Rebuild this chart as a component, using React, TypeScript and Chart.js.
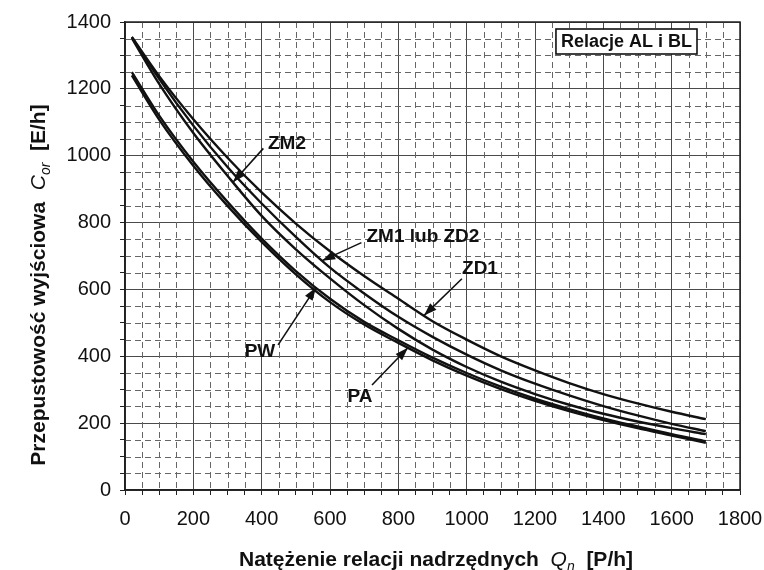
import React, { useEffect, useRef } from 'react';
import { Chart, registerables } from 'chart.js';

Chart.register(...registerables);

// ---- data ----
const qn = [20, 100, 200, 300, 400, 500, 600, 700, 800, 900, 1000, 1100, 1200, 1300, 1400, 1500, 1600, 1700];
const zd1 = [1355, 1238, 1109, 994, 890, 797, 714, 640, 572, 505, 450, 400, 358, 320, 287, 259, 234, 212];
const zm1 = [1355, 1230, 1090, 966, 857, 757, 665, 588, 518, 458, 405, 358, 318, 283, 251, 223, 198, 176];
const zm2 = [1352, 1215, 1068, 940, 820, 720, 633, 553, 482, 420, 368, 324, 287, 255, 228, 205, 185, 167];
const pw = [1250, 1120, 982, 862, 752, 655, 572, 503, 448, 396, 350, 309, 273, 242, 214, 190, 167, 146];
const pa = [1240, 1108, 970, 850, 742, 645, 562, 495, 440, 388, 342, 302, 267, 236, 209, 185, 163, 141];

const seriesNames = ['ZD1', 'ZM1 lub ZD2', 'ZM2', 'PW', 'PA'];
const seriesValues = [zd1, zm1, zm2, pw, pa];

const xMin = 0;
const xMax = 1800;
const yMin = 0;
const yMax = 1400;
const majorStep = 200;
const minorStep = 50;

const boxText = 'Relacje AL i BL';
const yTitle = ['Przepustowość wyjściowa  ', 'C', 'or', '  [E/h]'];
const xTitle = ['Natężenie relacji nadrzędnych  ', 'Q', 'n', '  [P/h]'];

// annotation: label position and arrow tail in data units; arrow tip x in data units, tip y taken from the series
const annotations = [
  { label: 'ZM2', series: 2, at: [474, 1035], from: [405, 1022], tipX: 316 },
  { label: 'ZM1 lub ZD2', series: 1, at: [872, 757], from: [692, 740], tipX: 577 },
  { label: 'ZD1', series: 0, at: [1039, 661], from: [986, 632], tipX: 875 },
  { label: 'PW', series: 3, at: [395, 413], from: [448, 434], tipX: 559 },
  { label: 'PA', series: 4, at: [688, 278], from: [723, 314], tipX: 828 },
];

const FONT = '"Liberation Sans", Arial, sans-serif';

function interp(xs: number[], ys: number[], x: number) {
  for (let i = 0; i < xs.length - 1; i++) {
    if (x >= xs[i] && x <= xs[i + 1]) {
      const t = (x - xs[i]) / (xs[i + 1] - xs[i]);
      return ys[i] + t * (ys[i + 1] - ys[i]);
    }
  }
  return ys[ys.length - 1];
}

function drawRuns(ctx: CanvasRenderingContext2D, runs: { text: string; font: string; dy: number }[], cx: number, cy: number) {
  let total = 0;
  for (const r of runs) {
    ctx.font = r.font;
    total += ctx.measureText(r.text).width;
  }
  let x = cx - total / 2;
  for (const r of runs) {
    ctx.font = r.font;
    ctx.fillText(r.text, x, cy + r.dy);
    x += ctx.measureText(r.text).width;
  }
}

function titleRuns(parts: string[]) {
  return [
    { text: parts[0], font: `bold 21px ${FONT}`, dy: 0 },
    { text: parts[1], font: `italic 21px ${FONT}`, dy: 0 },
    { text: parts[2], font: `italic 14px ${FONT}`, dy: 5 },
    { text: parts[3], font: `bold 21px ${FONT}`, dy: 0 },
  ];
}

const overlay = {
  id: 'overlay',
  beforeDatasetsDraw(chart: any) {
    const { ctx, chartArea: a, scales } = chart;
    const x = scales.x;
    const y = scales.y;
    ctx.save();
    ctx.strokeStyle = '#666';
    ctx.lineWidth = 1;
    ctx.setLineDash([6, 4]);
    for (let v = xMin + minorStep; v < xMax; v += minorStep) {
      if (v % majorStep === 0) continue;
      const px = Math.round(x.getPixelForValue(v)) + 0.5;
      ctx.beginPath();
      ctx.moveTo(px, a.top);
      ctx.lineTo(px, a.bottom);
      ctx.stroke();
    }
    for (let v = yMin + minorStep; v < yMax; v += minorStep) {
      if (v % majorStep === 0) continue;
      const py = Math.round(y.getPixelForValue(v)) + 0.5;
      ctx.beginPath();
      ctx.moveTo(a.left, py);
      ctx.lineTo(a.right, py);
      ctx.stroke();
    }
    ctx.restore();
  },
  afterDraw(chart: any) {
    const { ctx, chartArea: a, scales } = chart;
    const x = scales.x;
    const y = scales.y;
    ctx.save();
    // frame
    ctx.strokeStyle = '#222';
    ctx.lineWidth = 1.5;
    ctx.strokeRect(a.left, a.top, a.right - a.left, a.bottom - a.top);

    ctx.fillStyle = '#111';
    ctx.textBaseline = 'alphabetic';
    // y title
    ctx.save();
    ctx.translate(45, 285);
    ctx.rotate(-Math.PI / 2);
    drawRuns(ctx, titleRuns(yTitle), 0, 0);
    ctx.restore();
    // x title
    drawRuns(ctx, titleRuns(xTitle), 436, 566);

    // box label
    ctx.font = `bold 18px ${FONT}`;
    const tw = ctx.measureText(boxText).width;
    const bw = tw + 10;
    const bx = a.right - 43 - bw;
    const by = a.top + 7;
    ctx.fillStyle = '#fff';
    ctx.fillRect(bx, by, bw, 25);
    ctx.strokeStyle = '#111';
    ctx.lineWidth = 1.6;
    ctx.strokeRect(bx, by, bw, 25);
    ctx.fillStyle = '#111';
    ctx.textAlign = 'center';
    ctx.textBaseline = 'middle';
    ctx.fillText(boxText, bx + bw / 2, by + 13);

    // annotations
    for (const an of annotations) {
      const lx = x.getPixelForValue(an.at[0]);
      const ly = y.getPixelForValue(an.at[1]);
      ctx.font = `bold 19px ${FONT}`;
      ctx.fillStyle = '#111';
      ctx.fillText(an.label, lx, ly);
      const fx = x.getPixelForValue(an.from[0]);
      const fy = y.getPixelForValue(an.from[1]);
      const tx = x.getPixelForValue(an.tipX);
      const ty = y.getPixelForValue(interp(qn, seriesValues[an.series], an.tipX));
      ctx.strokeStyle = '#111';
      ctx.lineWidth = 1.6;
      ctx.beginPath();
      ctx.moveTo(fx, fy);
      ctx.lineTo(tx, ty);
      ctx.stroke();
      const ang = Math.atan2(ty - fy, tx - fx);
      const L = 13;
      const W = 4.5;
      const bxp = tx - L * Math.cos(ang);
      const byp = ty - L * Math.sin(ang);
      ctx.beginPath();
      ctx.moveTo(tx, ty);
      ctx.lineTo(bxp + W * Math.sin(ang), byp - W * Math.cos(ang));
      ctx.lineTo(bxp - W * Math.sin(ang), byp + W * Math.cos(ang));
      ctx.closePath();
      ctx.fill();
    }
    ctx.restore();
  },
};

export default function App() {
  const ref = useRef<HTMLCanvasElement | null>(null);

  useEffect(() => {
    document.body.style.margin = '0';
    const canvas = ref.current;
    if (!canvas) return;
    const chart = new Chart(canvas, {
      type: 'line',
      data: {
        datasets: seriesNames.map((name, i) => ({
          label: name,
          data: qn.map((q, j) => ({ x: q, y: seriesValues[i][j] })),
          borderColor: '#111',
          borderWidth: 2.4,
          pointRadius: 0,
          fill: false,
          cubicInterpolationMode: 'monotone' as const,
        })),
      },
      options: {
        responsive: false,
        animation: false,
        devicePixelRatio: 1,
        layout: { padding: { left: 0, right: 24, top: 22, bottom: 0 } },
        plugins: {
          legend: { display: false },
          tooltip: { enabled: false },
          title: { display: false },
        },
        scales: {
          x: {
            type: 'linear',
            min: xMin,
            max: xMax,
            afterFit: (s: any) => {
              s.height = 80;
              s.paddingRight = 0;
              s.paddingLeft = 0;
            },
            ticks: {
              stepSize: minorStep,
              autoSkip: false,
              maxRotation: 0,
              padding: 12,
              color: '#111',
              font: { family: FONT, size: 20 },
              callback: (v: any) => (Number(v) % majorStep === 0 ? String(v) : ''),
            },
            grid: {
              color: (c: any) => (c.tick && c.tick.value % majorStep === 0 ? '#4a4a4a' : 'rgba(0,0,0,0)'),
              tickColor: '#222',
              tickLength: 5,
              lineWidth: 1,
            },
            border: { display: true, color: '#222', width: 1.5 },
          },
          y: {
            type: 'linear',
            min: yMin,
            max: yMax,
            afterFit: (s: any) => {
              s.width = 125;
              s.paddingTop = 0;
              s.paddingBottom = 0;
            },
            ticks: {
              stepSize: minorStep,
              autoSkip: false,
              padding: 9,
              color: '#111',
              font: { family: FONT, size: 20 },
              callback: (v: any) => (Number(v) % majorStep === 0 ? String(v) : ''),
            },
            grid: {
              color: (c: any) => (c.tick && c.tick.value % majorStep === 0 ? '#4a4a4a' : 'rgba(0,0,0,0)'),
              tickColor: '#222',
              tickLength: 5,
              lineWidth: 1,
            },
            border: { display: true, color: '#222', width: 1.5 },
          },
        },
      },
      plugins: [overlay],
    });
    return () => chart.destroy();
  }, []);

  return (
    <div style={{ width: 764, height: 570 }}>
      <canvas ref={ref} width={764} height={570} style={{ display: 'block' }} />
    </div>
  );
}
